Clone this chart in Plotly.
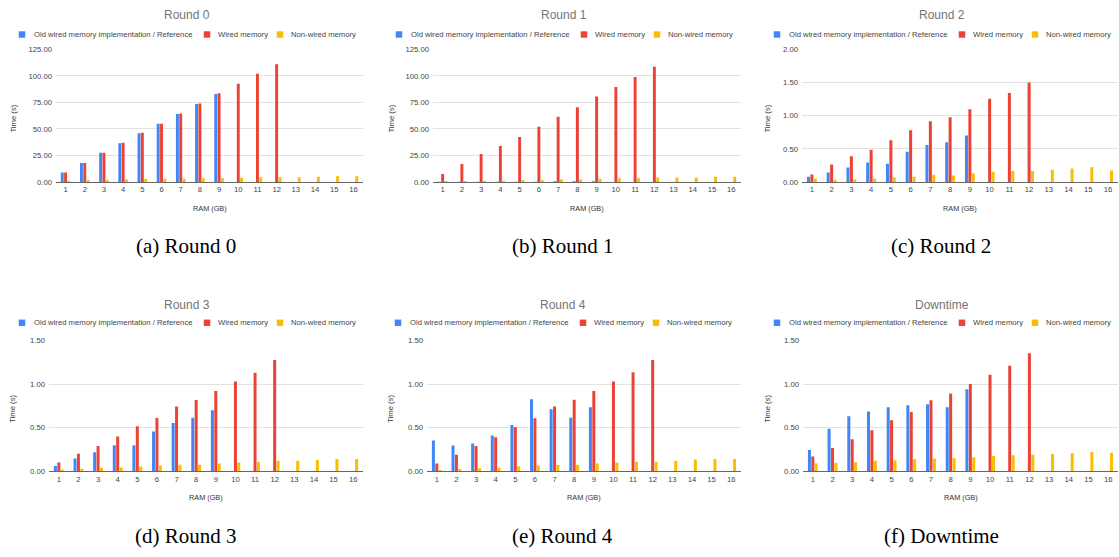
import plotly.graph_objects as go

# ---------------- data ----------------
categories = [str(i) for i in range(1, 17)]
series_names = ["Old wired memory implementation / Reference", "Wired memory", "Non-wired memory"]
series_colors = ["#4285F4", "#EA4335", "#FBBC04"]

r0_old = [9, 18, 27.5, 36.5, 46, 55, 64, 73.5, 83]
r0_wired = [9, 18, 27.5, 37, 46.5, 55, 64.5, 74, 83.5, 92.5, 102, 111]
r0_non = [1.2, 1.9, 1.9, 2.5, 3.1, 3.1, 3.1, 3.7, 3.7, 4.0, 4.6, 4.6, 4.6, 4.9, 5.5, 5.5]

r1_old = [0.3, 0.3, 0.3, 0.3, 0.3, 0.3, 0.8, 0.8, 0.8]
r1_wired = [7.5, 17, 26.5, 34, 42.5, 52, 61.5, 70.5, 80.5, 89.5, 99, 108.5]
r1_non = [1.0, 1.0, 1.2, 1.2, 1.9, 1.9, 2.5, 2.5, 3.1, 3.7, 3.7, 4.3, 4.3, 4.3, 4.9, 4.9]

r2_old = [0.08, 0.145, 0.22, 0.295, 0.275, 0.455, 0.56, 0.60, 0.70]
r2_wired = [0.115, 0.265, 0.39, 0.485, 0.63, 0.78, 0.915, 0.975, 1.095, 1.255, 1.34, 1.50]
r2_non = [0.05, 0.035, 0.04, 0.05, 0.07, 0.08, 0.11, 0.10, 0.13, 0.155, 0.165, 0.165, 0.185, 0.205, 0.225, 0.175]

r3_old = [0.06, 0.146, 0.22, 0.30, 0.30, 0.457, 0.555, 0.615, 0.70]
r3_wired = [0.10, 0.20, 0.29, 0.40, 0.517, 0.61, 0.742, 0.817, 0.92, 1.03, 1.13, 1.275]
r3_non = [0.022, 0.03, 0.037, 0.045, 0.056, 0.067, 0.075, 0.075, 0.09, 0.10, 0.11, 0.12, 0.12, 0.13, 0.14, 0.14]

r4_old = [0.352, 0.296, 0.319, 0.41, 0.53, 0.825, 0.712, 0.615, 0.735]
r4_wired = [0.09, 0.19, 0.29, 0.39, 0.506, 0.607, 0.742, 0.82, 0.92, 1.03, 1.135, 1.275]
r4_non = [0.015, 0.026, 0.034, 0.04, 0.056, 0.067, 0.075, 0.075, 0.09, 0.10, 0.11, 0.11, 0.12, 0.135, 0.14, 0.14]

dt_old = [0.244, 0.487, 0.63, 0.686, 0.735, 0.757, 0.77, 0.735, 0.94]
dt_wired = [0.169, 0.266, 0.367, 0.472, 0.585, 0.679, 0.814, 0.892, 1.0, 1.106, 1.21, 1.354]
dt_non = [0.09, 0.098, 0.105, 0.12, 0.127, 0.139, 0.146, 0.154, 0.161, 0.176, 0.184, 0.19, 0.199, 0.206, 0.221, 0.214]

titles = ["Round 0", "Round 1", "Round 2", "Round 3", "Round 4", "Downtime"]
captions = ["(a) Round 0", "(b) Round 1", "(c) Round 2", "(d) Round 3", "(e) Round 4", "(f) Downtime"]
y_max = [125, 125, 2.0, 1.5, 1.5, 1.5]
y_step = [25, 25, 0.5, 0.5, 0.5, 0.5]
x_title = "RAM (GB)"
y_title = "Time (s)"

panel_data = [
    (r0_old, r0_wired, r0_non),
    (r1_old, r1_wired, r1_non),
    (r2_old, r2_wired, r2_non),
    (r3_old, r3_wired, r3_non),
    (r4_old, r4_wired, r4_non),
    (dt_old, dt_wired, dt_non),
]

# ---------------- layout (pixels) ----------------
W, H = 1119, 557
plot_x = [(56, 363), (433, 741), (802, 1118), (49, 363), (427, 741), (803, 1118)]
plot_y = [(46, 181), (46, 181), (46, 181), (342, 475), (342, 475), (342, 475)]
center_x = [187, 564, 942, 187, 563, 942]
title_y = [11, 11, 11, 306, 306, 306]
legend_y = [31, 31, 31, 324, 324, 324]
xtitle_y = [208, 208, 208, 502, 502, 502]
caption_y = [246, 246, 246, 541, 541, 541]
ytitle_x = [14, 392, 768, 13, 391, 768]
legend_sq_off = [-165, 20, 93]
legend_txt_off = [-155, 29, 102]
SQ = 6.5

FONT = "Liberation Sans, Arial, sans-serif"
SERIF = "Liberation Serif, Times New Roman, serif"


def fx(x):
    return x / W


def fy(y):
    return 1 - y / H


def pad(vals):
    return list(vals) + [None] * (len(categories) - len(vals))


fig = go.Figure()
annotations = []
shapes = []

for i in range(6):
    n = "" if i == 0 else str(i + 1)
    for s in range(3):
        fig.add_trace(go.Bar(
            x=categories, y=pad(panel_data[i][s]), name=series_names[s],
            marker=dict(color=series_colors[s], line=dict(width=0)),
            xaxis="x" + n, yaxis="y" + n, showlegend=False,
        ))
    x0, x1 = plot_x[i]
    yt, yb = plot_y[i]
    fig.update_layout(**{
        "xaxis" + n: dict(
            domain=[fx(x0), fx(x1)], anchor="y" + n, type="category",
            showgrid=False, showline=True, linecolor="#666666", linewidth=1,
            ticks="", tickfont=dict(size=7.7, color="#444444", family=FONT),
            fixedrange=True,
        ),
        "yaxis" + n: dict(
            domain=[fy(yb), fy(yt)], anchor="x" + n,
            range=[0, y_max[i]], dtick=y_step[i], tick0=0, tickformat=".2f",
            showgrid=True, gridcolor="#e2e2e2", gridwidth=1, zeroline=False,
            showline=False, ticks="", ticklabelstandoff=3,
            tickfont=dict(size=7.7, color="#444444", family=FONT),
            fixedrange=True,
        ),
    })
    annotations.append(dict(text=titles[i], x=fx(center_x[i]), y=fy(title_y[i]),
                            xref="paper", yref="paper", xanchor="center", yanchor="middle",
                            showarrow=False, font=dict(size=12, color="#757575", family=FONT)))
    annotations.append(dict(text=x_title, x=fx((x0 + x1) / 2), y=fy(xtitle_y[i]),
                            xref="paper", yref="paper", xanchor="center", yanchor="middle",
                            showarrow=False, font=dict(size=7.3, color="#333333", family=FONT)))
    annotations.append(dict(text=y_title, x=fx(ytitle_x[i]), y=fy((yt + yb) / 2 + 3),
                            xref="paper", yref="paper", xanchor="center", yanchor="middle",
                            textangle=-90, showarrow=False,
                            font=dict(size=7.7, color="#333333", family=FONT)))
    annotations.append(dict(text=captions[i], x=fx(center_x[i] - 1), y=fy(caption_y[i]),
                            xref="paper", yref="paper", xanchor="center", yanchor="middle",
                            showarrow=False, font=dict(size=21, color="#000000", family=SERIF)))
    for s in range(3):
        cx = center_x[i] + legend_sq_off[s]
        cy = legend_y[i]
        shapes.append(dict(type="rect", xref="paper", yref="paper",
                           x0=fx(cx - SQ / 2), x1=fx(cx + SQ / 2),
                           y0=fy(cy + SQ / 2), y1=fy(cy - SQ / 2),
                           fillcolor=series_colors[s], line=dict(width=0)))
        annotations.append(dict(text=series_names[s], x=fx(center_x[i] + legend_txt_off[s]),
                                y=fy(cy), xref="paper", yref="paper",
                                xanchor="left", yanchor="middle", showarrow=False,
                                font=dict(size=7.7, color="#444444", family=FONT)))

fig.update_layout(
    width=W, height=H, autosize=False,
    margin=dict(l=0, r=0, t=0, b=0),
    paper_bgcolor="white", plot_bgcolor="white",
    barmode="group", bargap=0.48, bargroupgap=0.12,
    showlegend=False,
    annotations=annotations, shapes=shapes,
    font=dict(family=FONT),
)

fig.write_html(
    "out.html",
    config={"displayModeBar": False, "staticPlot": True},
    post_script="document.body.style.margin='0';document.body.style.padding='0';document.body.style.overflow='hidden';",
)
